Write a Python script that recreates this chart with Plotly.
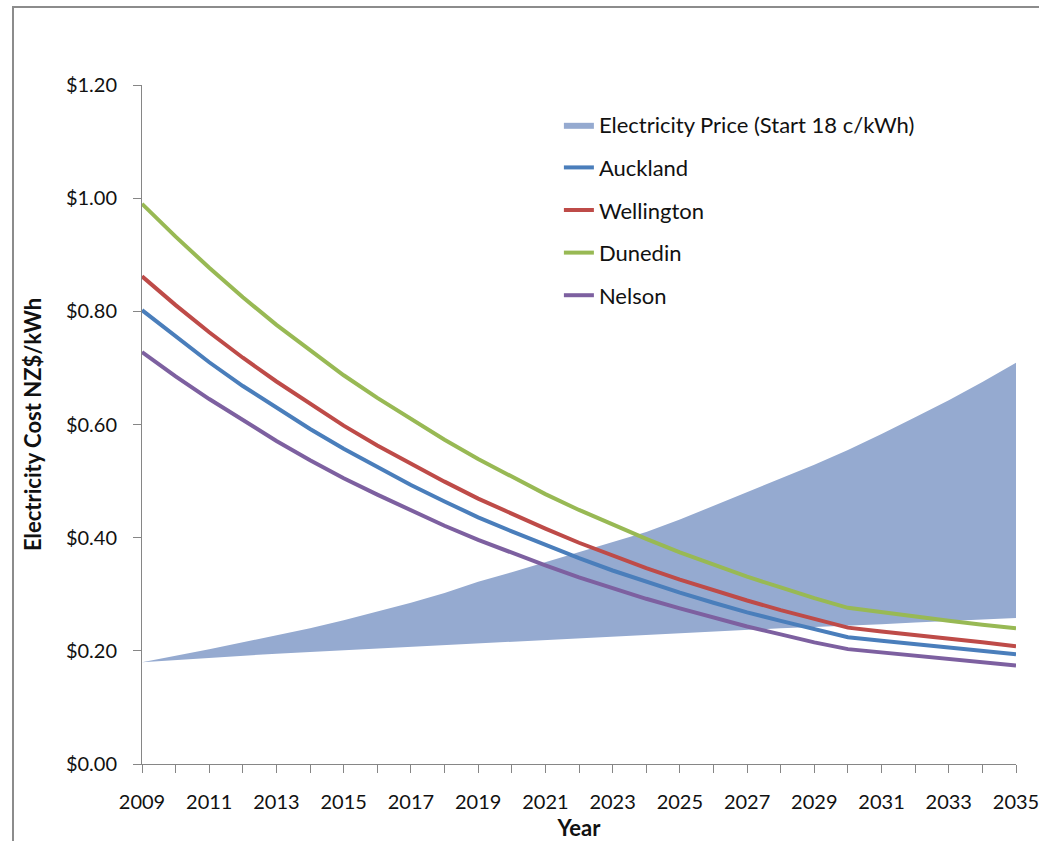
import plotly.graph_objects as go

years = list(range(2009, 2036))
tick_years = [2009, 2011, 2013, 2015, 2017, 2019, 2021, 2023, 2025, 2027, 2029, 2031, 2033, 2035]

price_low = [0.180, 0.184, 0.188, 0.191, 0.195, 0.198, 0.201, 0.204, 0.207, 0.210,
             0.213, 0.216, 0.219, 0.222, 0.225, 0.228, 0.232, 0.235, 0.237, 0.240,
             0.242, 0.244, 0.247, 0.250, 0.253, 0.255, 0.258]
price_high = [0.180, 0.191, 0.203, 0.215, 0.227, 0.240, 0.254, 0.269, 0.285, 0.302,
              0.322, 0.339, 0.357, 0.375, 0.393, 0.410, 0.432, 0.456, 0.480, 0.505,
              0.529, 0.555, 0.583, 0.613, 0.643, 0.675, 0.709]

auckland = [0.802, 0.755, 0.710, 0.668, 0.629, 0.592, 0.557, 0.524, 0.493, 0.464,
            0.436, 0.411, 0.387, 0.364, 0.342, 0.322, 0.303, 0.285, 0.268, 0.253,
            0.238, 0.224, 0.218, 0.212, 0.206, 0.200, 0.194]
wellington = [0.862, 0.811, 0.763, 0.718, 0.676, 0.636, 0.598, 0.563, 0.530, 0.499,
              0.469, 0.442, 0.416, 0.391, 0.368, 0.346, 0.326, 0.307, 0.289, 0.272,
              0.256, 0.241, 0.234, 0.228, 0.221, 0.215, 0.208]
dunedin = [0.990, 0.932, 0.877, 0.825, 0.776, 0.731, 0.687, 0.647, 0.609, 0.573,
           0.539, 0.507, 0.477, 0.449, 0.423, 0.398, 0.374, 0.352, 0.331, 0.312,
           0.293, 0.276, 0.268, 0.261, 0.253, 0.246, 0.240]
nelson = [0.728, 0.685, 0.645, 0.607, 0.571, 0.537, 0.505, 0.476, 0.448, 0.421,
          0.396, 0.373, 0.351, 0.330, 0.311, 0.292, 0.275, 0.259, 0.243, 0.229,
          0.215, 0.203, 0.197, 0.192, 0.186, 0.180, 0.174]

band_name = "Electricity Price (Start 18 c/kWh)"
city_names = ["Auckland", "Wellington", "Dunedin", "Nelson"]
city_values = [auckland, wellington, dunedin, nelson]
city_colors = ["#4A7EBB", "#BE4B48", "#98B954", "#7D60A0"]

FONT = "Lato"
AXIS_GRAY = "#868686"

fig = go.Figure()

fig.add_trace(go.Scatter(x=years, y=price_low, mode="lines", line=dict(width=0, color="#95AAD0"),
                         showlegend=False, hoverinfo="skip", legendgroup="low"))
fig.add_trace(go.Scatter(x=years, y=price_high, mode="lines", line=dict(width=0, color="#95AAD0"),
                         fill="tonexty", fillcolor="#95AAD0", name=band_name, legendgroup="band"))

for name, vals, col in zip(city_names, city_values, city_colors):
    fig.add_trace(go.Scatter(x=years, y=vals, mode="lines", name=name,
                             line=dict(color=col, width=4), legendgroup=name))

fig.update_layout(
    width=1039, height=841,
    margin=dict(l=142, r=23, t=85, b=77),
    paper_bgcolor="white", plot_bgcolor="white",
    font=dict(family=FONT, size=20, color="#111111"),
    showlegend=True,
    legend=dict(x=0.477, y=0.972, xanchor="left", yanchor="top",
                bgcolor="rgba(0,0,0,0)", tracegroupgap=11,
                font=dict(family=FONT, size=22, color="#111111")),
    xaxis=dict(range=[2009, 2035], tickmode="array", tickvals=tick_years,
               ticktext=[str(y) for y in tick_years], showgrid=False, zeroline=False,
               showline=True, linecolor=AXIS_GRAY, linewidth=1, automargin=False,
               ticklabeloverflow="allow",
               ticks="outside", ticklen=8, tickcolor=AXIS_GRAY, ticklabelstandoff=12,
               minor=dict(tickmode="array", tickvals=years, ticks="outside", ticklen=8,
                          tickcolor=AXIS_GRAY),
               tickfont=dict(family=FONT, size=20),
               title=dict(text="<b>Year</b>", font=dict(family=FONT, size=22), standoff=8)),
    yaxis=dict(range=[0, 1.2], dtick=0.2, tickformat="$.2f", showgrid=False, zeroline=False,
               showline=True, linecolor=AXIS_GRAY, linewidth=1, automargin=False,
               ticks="outside", ticklen=8, tickcolor=AXIS_GRAY, ticklabelstandoff=12,
               tickfont=dict(family=FONT, size=20),
               title=dict(text="<b>Electricity Cost NZ$/kWh</b>", font=dict(family=FONT, size=22),
                          standoff=18)),
    shapes=[dict(type="path", xref="paper", yref="paper",
                 path="M -0.1476,-0.2 L -0.1476,1.1149 L 1.1,1.1149",
                 line=dict(color="#8C8C8C", width=2))],
)

fig.write_html("out.html")
